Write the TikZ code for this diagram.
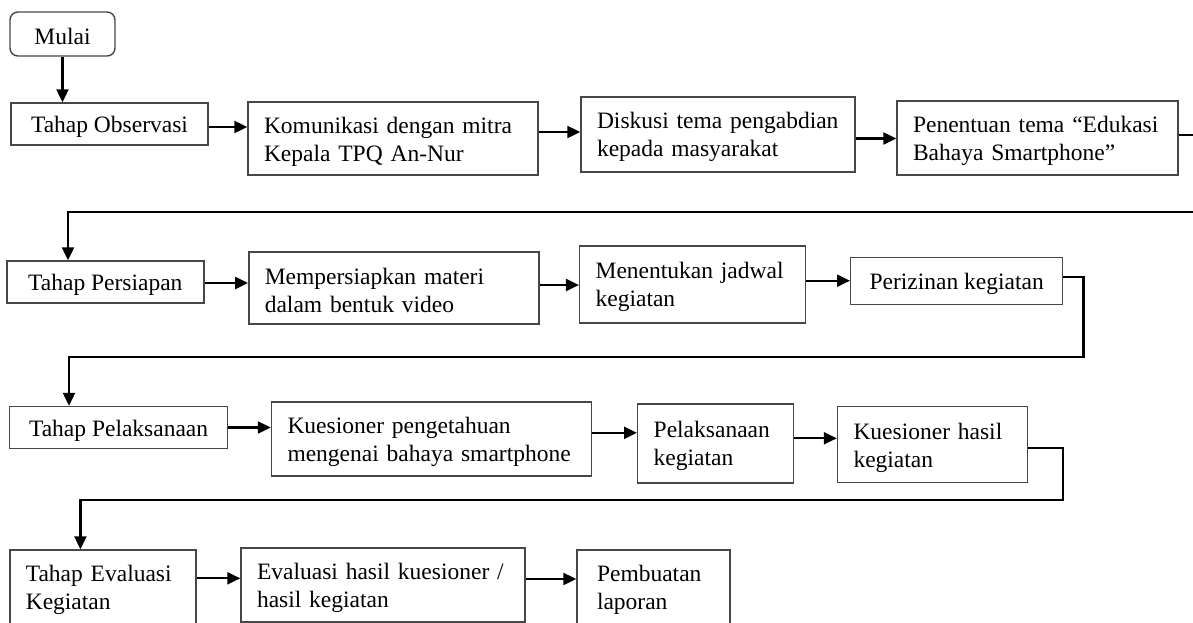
\documentclass[tikz,border=0pt]{standalone}
\usepackage{fontspec}
\setmainfont{Liberation Serif}
\usetikzlibrary{arrows.meta,calc}
\newcommand{\Tst}{\rule{0pt}{22pt}}
\begin{document}
\begin{tikzpicture}[x=1pt,y=-1pt,
  box/.style={draw=black!72, line width=1.4pt, inner xsep=16pt, inner ysep=0pt, anchor=center,
    font=\fontsize{23.5}{28}\selectfont},
  cbox/.style={box, align=center},
  lbox/.style={box, align=left, text width=#1},
  arr/.style={line width=2.2pt, -{Triangle[length=13pt,width=12pt]}}
]
\useasboundingbox (0,0) rectangle (1193,622);
\clip (0,0) rectangle (1193,622);

% Row 1
\node[cbox,rounded corners=8pt,minimum width=105pt,minimum height=44pt] (mulai) at (62.5,34) {\Tst Mulai};
\node[cbox,minimum width=197pt,minimum height=42pt] (obs) at (109.5,124) {\Tst Tahap Observasi};
\node[lbox=258pt,minimum height=73pt] (kom) at (393,138.5) {\mbox{\Tst Komunikasi dengan mitra}\\\mbox{Kepala TPQ An-Nur}};
\node[lbox=242pt,minimum height=75pt] (disk) at (718,134.5) {\mbox{\Tst Diskusi tema pengabdian}\\\mbox{kepada masyarakat}};
\node[lbox=249pt,minimum height=74pt] (pen) at (1037.5,138) {\mbox{\Tst Penentuan tema “Edukasi}\\\mbox{Bahaya Smartphone”}};

% Row 2
\node[cbox,minimum width=197pt,minimum height=42pt] (pers) at (105.3,282) {\Tst Tahap Persiapan};
\node[lbox=258pt,minimum height=72pt] (mem) at (393.8,288) {\mbox{\Tst Mempersiapkan materi}\\\mbox{dalam bentuk video}};
\node[lbox=194pt,minimum height=77pt] (ment) at (692.6,284.3) {\mbox{\Tst Menentukan jadwal}\\\mbox{kegiatan}};
\node[cbox,minimum width=212pt,minimum height=47pt] (per) at (956.7,280.7) {\Tst Perizinan kegiatan};

% Row 3
\node[cbox,minimum width=218pt,minimum height=42pt] (pel) at (118.6,427.5) {\Tst Tahap Pelaksanaan};
\node[lbox=288pt,minimum height=74pt] (kp) at (431.5,438.8) {\mbox{\Tst Kuesioner pengetahuan}\\\mbox{mengenai bahaya smartphone}};
\node[lbox=124pt,minimum height=79pt] (pk) at (715.7,443.3) {\mbox{\Tst Pelaksanaan}\\\mbox{kegiatan}};
\node[lbox=158pt,minimum height=76pt] (kh) at (932.5,444.7) {\mbox{\Tst Kuesioner hasil}\\\mbox{kegiatan}};

% Row 4
\node[lbox=154pt,minimum height=74pt] (ev) at (102.8,587) {\mbox{\Tst Tahap Evaluasi}\\\mbox{Kegiatan}};
\node[lbox=252pt,minimum height=74pt] (eh) at (383,585) {\mbox{\Tst Evaluasi hasil kuesioner /}\\\mbox{hasil kegiatan}};
\node[lbox=113pt,inner xsep=20pt,minimum height=74pt] (pb) at (653.5,587) {\mbox{\Tst Pembuatan}\\\mbox{laporan}};

% Connectors row 1
\draw[arr] (mulai.south) -- (mulai.south |- obs.north);
\coordinate (a1) at ($(obs.east)+(0,3)$);
\draw[arr] (a1) -- (a1 -| kom.west);
\coordinate (a2) at ($(kom.east)+(0,-6.5)$);
\draw[arr] (a2) -- (a2 -| disk.west);
\coordinate (a3) at ($(disk.east)+(0,4)$);
\draw[arr] (a3) -- (a3 -| pen.west);
\coordinate (c1) at ($(pen.east)+(0,-3)$);
\coordinate (r1) at (1215,212);
\coordinate (t1) at (68,212);
\draw[arr] (c1) -| (r1) -- (t1) -- (t1 |- pers.north);

% Connectors row 2
\coordinate (b1) at ($(pers.east)+(0,1)$);
\draw[arr] (b1) -- (b1 -| mem.west);
\coordinate (b2) at ($(mem.east)+(0,-3)$);
\draw[arr] (b2) -- (b2 -| ment.west);
\draw[arr] (ment.east |- per.west) -- (per.west);
\coordinate (c2) at ($(per.east)+(0,-3.4)$);
\coordinate (r2) at (1083.4,356.7);
\coordinate (t2) at (69,356.7);
\draw[arr] (c2) -| (r2) -- (t2) -- (t2 |- pel.north);

% Connectors row 3
\draw[arr] (pel.east) -- (pel.east -| kp.west);
\coordinate (d2) at ($(kp.east)+(0,-6)$);
\draw[arr] (d2) -- (d2 -| pk.west);
\coordinate (d3) at ($(pk.east)+(0,-5)$);
\draw[arr] (d3) -- (d3 -| kh.west);
\coordinate (c3) at ($(kh.east)+(0,3.6)$);
\coordinate (r3) at (1063.3,500);
\coordinate (t3) at (80.4,500);
\draw[arr] (c3) -| (r3) -- (t3) -- (t3 |- ev.north);

% Connectors row 4
\coordinate (e1) at ($(ev.east)+(0,-8.7)$);
\draw[arr] (e1) -- (e1 -| eh.west);
\coordinate (e2) at ($(eh.east)+(0,-6)$);
\draw[arr] (e2) -- (e2 -| pb.west);
\end{tikzpicture}
\end{document}
